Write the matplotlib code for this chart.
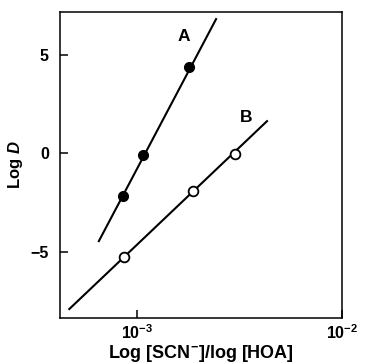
import numpy as np
import matplotlib.pyplot as plt
from matplotlib.ticker import NullLocator

plt.rcParams['font.family'] = ['Liberation Sans', 'DejaVu Sans']
plt.rcParams['font.weight'] = 'bold'
plt.rcParams['mathtext.fontset'] = 'custom'
plt.rcParams['mathtext.rm'] = 'Liberation Sans:bold'
plt.rcParams['mathtext.it'] = 'Liberation Sans:italic:bold'
plt.rcParams['mathtext.bf'] = 'Liberation Sans:bold'

# measured points
A_x = [8.55e-4, 1.07e-3, 1.79e-3]
A_y = [-2.18, -0.1, 4.37]
B_x = [8.6e-4, 1.88e-3, 3.0e-3]
B_y = [-5.28, -1.93, -0.05]

# fitted lines (end points)
lineA_x = [6.5e-4, 2.43e-3]
lineA_y = [-4.47, 6.8]
lineB_x = [4.66e-4, 4.31e-3]
lineB_y = [-7.92, 1.62]

fig = plt.figure(figsize=(3.66, 3.64), dpi=100)
ax = fig.add_axes([0.164, 0.126, 0.770, 0.841])

ax.plot(lineA_x, lineA_y, color='black', lw=1.5)
ax.plot(lineB_x, lineB_y, color='black', lw=1.5)
ax.plot(A_x, A_y, 'o', ms=7, color='black')
ax.plot(B_x, B_y, 'o', ms=7, mfc='white', mec='black', mew=1.3)

ax.text(1.69e-3, 5.9, 'A', fontsize=12.5, fontweight='bold', ha='center', va='center')
ax.text(3.4e-3, 1.78, 'B', fontsize=12.5, fontweight='bold', ha='center', va='center')

ax.set_xscale('log')
ax.set_xlim(4.2e-4, 1e-2)
ax.set_ylim(-8.38, 7.16)
ax.set_xticks([1e-3, 1e-2])
ax.xaxis.set_minor_locator(NullLocator())
ax.set_yticks([-5, 0, 5])
ax.set_yticklabels(['\u22125', '0', '5'])

ax.tick_params(direction='in', length=6, width=1.1, labelsize=11.5)
ax.tick_params(axis='y', pad=8)
for s in ax.spines.values():
    s.set_linewidth(1.1)

ax.set_xlabel('Log [SCN$^{-}$]/log [HOA]', fontsize=13, fontweight='bold', labelpad=1)
ax.set_ylabel('Log $D$', fontsize=12, fontweight='bold', labelpad=4)

plt.savefig('out.png', dpi=100)
